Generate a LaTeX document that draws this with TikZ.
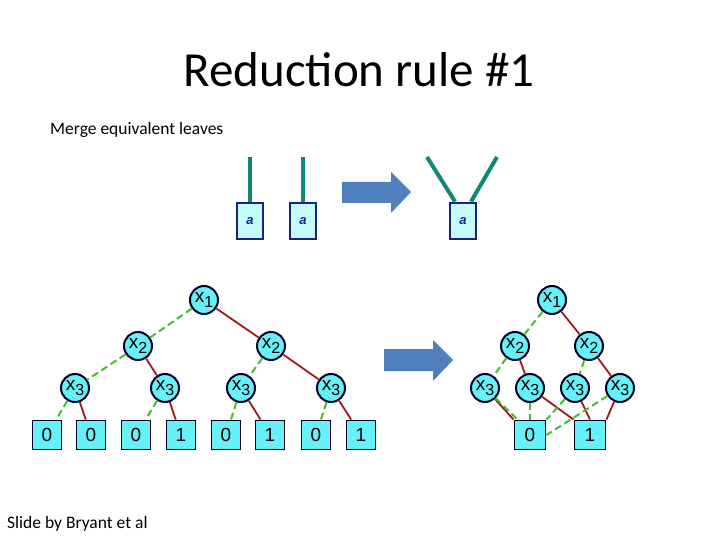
\documentclass[tikz,border=0pt]{standalone}
\usepackage{fontspec}
\setmainfont{Carlito}
\newfontfamily\arialf{Liberation Sans}
\definecolor{nodecyan}{HTML}{66F0F8}
\definecolor{leafcyan}{HTML}{C4FCFC}
\definecolor{navy}{HTML}{1A237E}
\definecolor{teal2}{HTML}{108878}
\definecolor{arrowblue}{HTML}{4F7FBD}
\definecolor{hi}{HTML}{A01818}
\definecolor{lo}{HTML}{40C030}
\tikzset{
 var/.style={circle,draw=black!85!blue,line width=2pt,fill=nodecyan,minimum size=28pt,inner sep=0pt,font=\arialf\fontsize{19}{19}\selectfont},
 leaf/.style={rectangle,draw=black!85!blue,line width=1.8pt,fill=nodecyan,minimum width=29pt,minimum height=29pt,inner sep=0pt,font=\arialf\fontsize{19}{19}\selectfont},
 aleaf/.style={rectangle,draw=navy,line width=2.8pt,fill=leafcyan,minimum width=26pt,minimum height=36pt,inner sep=0pt,font=\arialf\bfseries\itshape\fontsize{13}{13}\selectfont,text=navy},
 hiE/.style={draw=hi,line width=1.8pt},
 loE/.style={draw=lo,line width=2pt,dash pattern=on 7pt off 4pt},
 stem/.style={draw=teal2,line width=4pt},
 bigarrow/.style={fill=arrowblue,draw=none}
}
\newcommand{\xv}[1]{x\raisebox{-0.45ex}{\fontsize{16}{16}\selectfont #1}}
\begin{document}
\begin{tikzpicture}[x=1pt,y=-1pt]
\useasboundingbox (0,0) rectangle (720,540);
\node (title) at (359,70) {\fontsize{49}{49}\selectfont Reduction rule \#1};
\node[anchor=west,inner sep=0pt] (sub) at (50,130) {\fontsize{17.5}{17.5}\selectfont Merge equivalent leaves};
\node[anchor=west,inner sep=0pt] (cred) at (7,524) {\fontsize{17.5}{17.5}\selectfont Slide by Bryant et al};
% small illustration
\node[aleaf] (a1) at (250,221) {a};
\node[aleaf] (a2) at (303,221) {a};
\node[aleaf] (a3) at (463,221) {a};
\coordinate (t1) at (250,157); \coordinate (t2) at (303,157);
\coordinate (t3) at (427,157); \coordinate (t4) at (497,157);
\draw[stem] (t1) -- (a1.north);
\draw[stem] (t2) -- (a2.north);
\draw[stem] (t3) -- ([xshift=-8pt]a3.north);
\draw[stem] (t4) -- ([xshift=8pt]a3.north);
\fill[bigarrow] (342,182) -- (391,182) -- (391,172) -- (411,192) -- (391,213) -- (391,203) -- (342,203) -- cycle;
\fill[bigarrow] (384,349) -- (433,349) -- (433,340) -- (453,360) -- (433,381) -- (433,371) -- (384,371) -- cycle;
% left tree
\node[var] (L1) at (204,300) {\xv1};
\node[var] (L2a) at (138,346) {\xv2};
\node[var] (L2b) at (271,346) {\xv2};
\node[var] (L3a) at (75,388) {\xv3};
\node[var] (L3b) at (165,388) {\xv3};
\node[var] (L3c) at (241,388) {\xv3};
\node[var] (L3d) at (331,388) {\xv3};
\foreach \n/\x/\v in {1/47/0,2/91/0,3/136/0,4/181/1,5/226/0,6/270/1,7/316/0,8/361/1}
  \node[leaf] (F\n) at (\x,435) {\v};
\path[loE] (L1) -- (L2a);
\path[hiE] (L1) -- (L2b);
\path[loE] (L2a) -- (L3a);
\path[hiE] (L2a) -- (L3b);
\path[loE] (L2b) -- (L3c);
\path[hiE] (L2b) -- (L3d);
\path[loE] (L3a) -- (F1); \path[hiE] (L3a) -- (F2);
\path[loE] (L3b) -- (F3); \path[hiE] (L3b) -- (F4);
\path[loE] (L3c) -- (F5); \path[hiE] (L3c) -- (F6);
\path[loE] (L3d) -- (F7); \path[hiE] (L3d) -- (F8);
% right tree
\node[var] (R1) at (552,300) {\xv1};
\node[var] (R2a) at (515,346) {\xv2};
\node[var] (R2b) at (589,346) {\xv2};
\node[var] (R3a) at (485,388) {\xv3};
\node[var] (R3b) at (530,388) {\xv3};
\node[var] (R3c) at (575,388) {\xv3};
\node[var] (R3d) at (620,388) {\xv3};
\node[leaf,minimum width=31pt] (Z) at (530,435) {0};
\node[leaf,minimum width=31pt] (O) at (590,435) {1};
\path[loE] (R1) -- (R2a);
\path[hiE] (R1) -- (R2b);
\path[loE] (R2a) -- (R3a);
\path[hiE] (R2a) -- (R3b);
\path[loE] (R2b) -- (R3c);
\path[hiE] (R2b) -- (R3d);
\path[hiE] (R3a) -- (Z.north west);
\path[loE] (R3a) -- ([xshift=4pt]Z.north west);
\path[loE] (R3b) -- (Z);
\path[hiE] (R3b) -- (O.north west);
\path[loE] (R3c) -- (Z.north east);
\path[hiE] (R3c) -- (O.north);
\path[loE] (R3d) -- (Z.east);
\path[hiE] (R3d) -- (O.north east);
\end{tikzpicture}
\end{document}
